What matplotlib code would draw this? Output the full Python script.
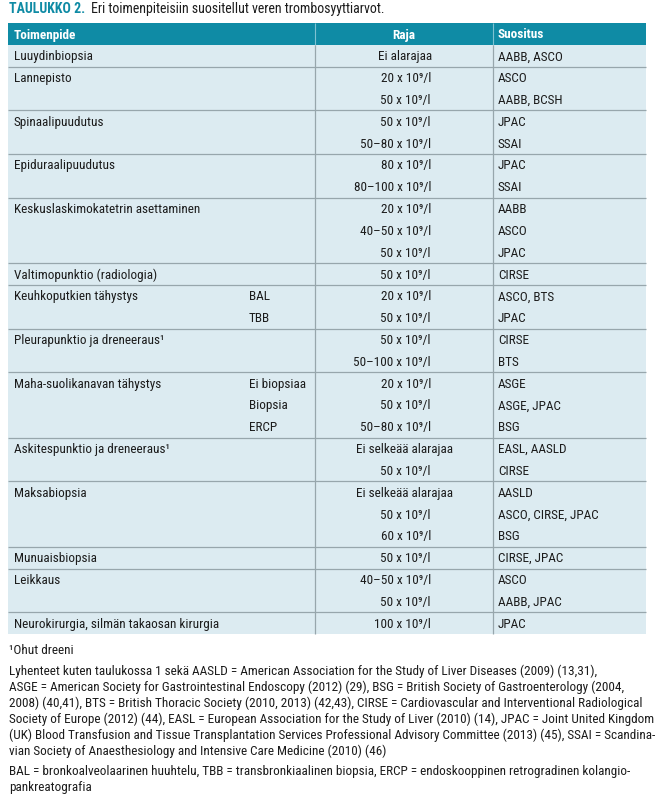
import matplotlib
matplotlib.use('Agg')
import matplotlib.pyplot as plt
from matplotlib import font_manager
from matplotlib.patches import Rectangle


def pick_font(names):
    for n in names:
        try:
            font_manager.findfont(n, fallback_to_default=False)
            return n
        except ValueError:
            pass
    return 'DejaVu Sans'


font = pick_font(['Liberation Sans Narrow', 'Roboto Condensed', 'Open Sans Condensed', 'Liberation Sans'])
plt.rcParams['font.family'] = [font, 'DejaVu Sans']

# ---- data ----
title_label = "TAULUKKO 2."
title_text = "Eri toimenpiteisiin suositellut veren trombosyyttiarvot."
headers = ["Toimenpide", "Raja", "Suositus"]

procedures = ["Luuydinbiopsia", "Lannepisto", "Spinaalipuudutus", "Epiduraalipuudutus",
              "Keskuslaskimokatetrin asettaminen", "Valtimopunktio (radiologia)",
              "Keuhkoputkien tähystys", "Pleurapunktio ja dreneeraus¹",
              "Maha-suolikanavan tähystys", "Askitespunktio ja dreneeraus¹",
              "Maksabiopsia", "Munuaisbiopsia", "Leikkaus",
              "Neurokirurgia, silmän takaosan kirurgia"]
group_sizes = [1, 2, 2, 2, 3, 1, 2, 2, 3, 2, 3, 1, 2, 1]

subgroups = ["", "", "", "", "", "", "", "", "", "", "", "BAL", "TBB", "", "",
             "Ei biopsiaa", "Biopsia", "ERCP", "", "", "", "", "", "", "", "", ""]
limits = ["Ei alarajaa", "20", "50", "50", "50–80", "80", "80–100", "20", "40–50", "50",
          "50", "20", "50", "50", "50–100", "20", "50", "50–80",
          "Ei selkeää alarajaa", "50", "Ei selkeää alarajaa", "50", "60", "50",
          "40–50", "50", "100"]
sources = ["AABB, ASCO", "ASCO", "AABB, BCSH", "JPAC", "SSAI", "JPAC", "SSAI", "AABB",
           "ASCO", "JPAC", "CIRSE", "ASCO, BTS", "JPAC", "CIRSE", "BTS", "ASGE",
           "ASGE, JPAC", "BSG", "EASL, AASLD", "CIRSE", "AASLD", "ASCO, CIRSE, JPAC",
           "BSG", "CIRSE, JPAC", "ASCO", "AABB, JPAC", "JPAC"]

footnote_mark = "¹Ohut dreeni"
abbrev_lines = [
    "Lyhenteet kuten taulukossa 1 sekä AASLD = American Association for the Study of Liver Diseases (2009) (13,31),",
    "ASGE = American Society for Gastrointestinal Endoscopy (2012) (29), BSG = British Society of Gastroenterology (2004,",
    "2008) (40,41), BTS = British Thoracic Society (2010, 2013) (42,43), CIRSE = Cardiovascular and Interventional Radiological",
    "Society of Europe (2012) (44), EASL = European Association for the Study of Liver (2010) (14), JPAC = Joint United Kingdom",
    "(UK) Blood Transfusion and Tissue Transplantation Services Professional Advisory Committee (2013) (45), SSAI = Scandina-",
    "vian Society of Anaesthesiology and Intensive Care Medicine (2010) (46)",
]
method_lines = [
    "BAL = bronkoalveolaarinen huuhtelu, TBB = transbronkiaalinen biopsia, ERCP = endoskooppinen retrogradinen kolangio-",
    "pankreatografia",
]

# ---- style ----
teal = '#0f8ba5'
body_bg = '#dcebf1'
line_col = '#97a6ac'
text_col = '#1c1c1c'
fs = 9.5

W, H = 670, 807
left, right = 8, 646
col1, col2 = 315, 493
head_top, head_bot = 23, 45
n_lines = len(limits)
row_h = (634 - head_bot) / n_lines

fig = plt.figure(figsize=(6.7, 8.07), dpi=100)
ax = fig.add_axes([0, 0, 1, 1])
ax.set_xlim(0, W)
ax.set_ylim(H, 0)
ax.axis('off')

# title
t1 = ax.text(left + 1, 13, title_label, color=teal, fontsize=10, fontweight='bold', va='baseline')
ax.annotate(title_text, xy=(1, 0), xycoords=t1, xytext=(4, 0), textcoords='offset points',
            fontsize=10, color=text_col, va='bottom')

# header
ax.add_patch(Rectangle((left, head_top), right - left, head_bot - head_top, color=teal, lw=0))
ax.vlines([col1, col2], head_top, head_bot, color='#7fc2d2', lw=0.8)
hb = (head_top + head_bot) / 2 + 4.5
ax.text(14, hb, headers[0], color='white', fontsize=fs, fontweight='bold', va='baseline')
ax.text(404, hb, headers[1], color='white', fontsize=fs, fontweight='bold', va='baseline', ha='center')
ax.text(498, hb, headers[2], color='white', fontsize=fs, fontweight='bold', va='baseline')

# body
body_bot = head_bot + n_lines * row_h
ax.add_patch(Rectangle((left, head_bot), right - left, body_bot - head_bot, color=body_bg, lw=0))
ax.vlines([col1, col2], head_bot, body_bot, color=line_col, lw=0.9)

line = 0
for g, (name, size) in enumerate(zip(procedures, group_sizes)):
    y0 = head_bot + line * row_h
    ax.text(14, y0 + 0.5 * row_h + 4.5, name, fontsize=fs, color=text_col, va='baseline')
    line += size
    if g < len(procedures) - 1:
        ax.hlines(head_bot + line * row_h, left, right, color=line_col, lw=0.9)

for i in range(n_lines):
    yb = head_bot + (i + 0.5) * row_h + 4.5
    if subgroups[i]:
        ax.text(249, yb, subgroups[i], fontsize=fs, color=text_col, va='baseline')
    lim = limits[i]
    if lim.startswith('Ei'):
        ax.text(405, yb, lim, fontsize=fs, color=text_col, va='baseline', ha='center')
    else:
        ax.text(431, yb, lim + " x 10⁹/l", fontsize=fs, color=text_col,
                va='baseline', ha='right')
    ax.text(498, yb, sources[i], fontsize=fs, color=text_col, va='baseline')

# notes
ax.text(left + 1, 654, footnote_mark, fontsize=fs, color=text_col, va='baseline')
for k, s in enumerate(abbrev_lines):
    ax.text(left + 1, 675 + k * 16, s, fontsize=fs, color=text_col, va='baseline')
for k, s in enumerate(method_lines):
    ax.text(left + 1, 775 + k * 16, s, fontsize=fs, color=text_col, va='baseline')

fig.savefig('out.png', dpi=100)
